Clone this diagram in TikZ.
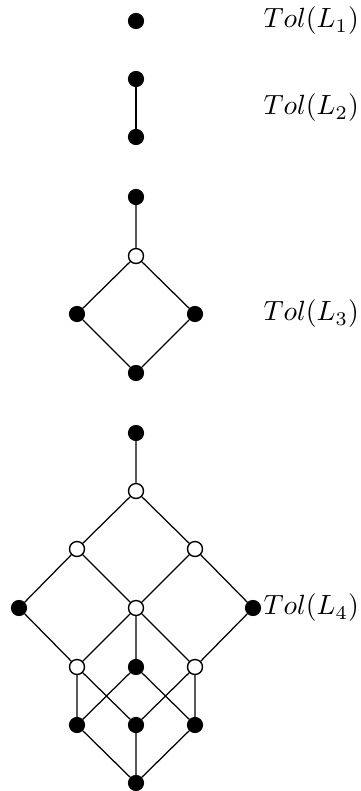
\documentclass[tikz,border=0pt]{standalone}
\begin{document}
\begin{tikzpicture}[x=0.36pt,y=-0.36pt,
  fdot/.style={circle,draw=black,fill=black,inner sep=0pt,minimum size=5.4pt},
  odot/.style={circle,draw=black,fill=white,inner sep=0pt,minimum size=5.4pt,line width=0.5pt},
  lbl/.style={anchor=west,inner sep=0pt},
  edge/.style={line width=0.45pt}]
\useasboundingbox (0,0) rectangle (361,791);
% L1
\node[fdot] (a1) at (136,21) {};
\node[lbl] (t1) at (263,21) {$Tol(L_1)$};
% L2
\node[fdot] (b1) at (136,79) {};
\node[fdot] (b2) at (136,137) {};
\node[lbl] (t2) at (263,108) {$Tol(L_2)$};
\draw[edge] (b1) -- (b2);
% L3
\node[fdot] (c1) at (136,197) {};
\node[odot] (c2) at (136,256) {};
\node[fdot] (c3) at (77,314) {};
\node[fdot] (c4) at (195,314) {};
\node[fdot] (c5) at (136,373) {};
\node[lbl] (t3) at (263,314) {$Tol(L_3)$};
\draw[edge] (c1) -- (c2) (c2) -- (c3) (c2) -- (c4) (c3) -- (c5) (c4) -- (c5);
% L4
\node[fdot] (d0) at (136,433) {};
\node[odot] (d1) at (136,491) {};
\node[odot] (dA) at (77,549) {};
\node[odot] (dB) at (195,549) {};
\node[fdot] (dL) at (19,608) {};
\node[odot] (dM) at (136,608) {};
\node[fdot] (dR) at (253,608) {};
\node[odot] (dC) at (77,667) {};
\node[fdot] (dD) at (136,667) {};
\node[odot] (dE) at (195,667) {};
\node[fdot] (dF) at (77,725) {};
\node[fdot] (dG) at (136,725) {};
\node[fdot] (dH) at (195,725) {};
\node[fdot] (dZ) at (136,783) {};
\node[lbl] (t4) at (263,608) {$Tol(L_4)$};
\draw[edge] (d0) -- (d1) (d1) -- (dA) (d1) -- (dB)
  (dA) -- (dL) (dA) -- (dM) (dB) -- (dM) (dB) -- (dR)
  (dL) -- (dC) (dM) -- (dC) (dM) -- (dD) (dM) -- (dE) (dR) -- (dE)
  (dC) -- (dF) (dC) -- (dG) (dD) -- (dF) (dD) -- (dH) (dE) -- (dG) (dE) -- (dH)
  (dF) -- (dZ) (dG) -- (dZ) (dH) -- (dZ);
\end{tikzpicture}
\end{document}
